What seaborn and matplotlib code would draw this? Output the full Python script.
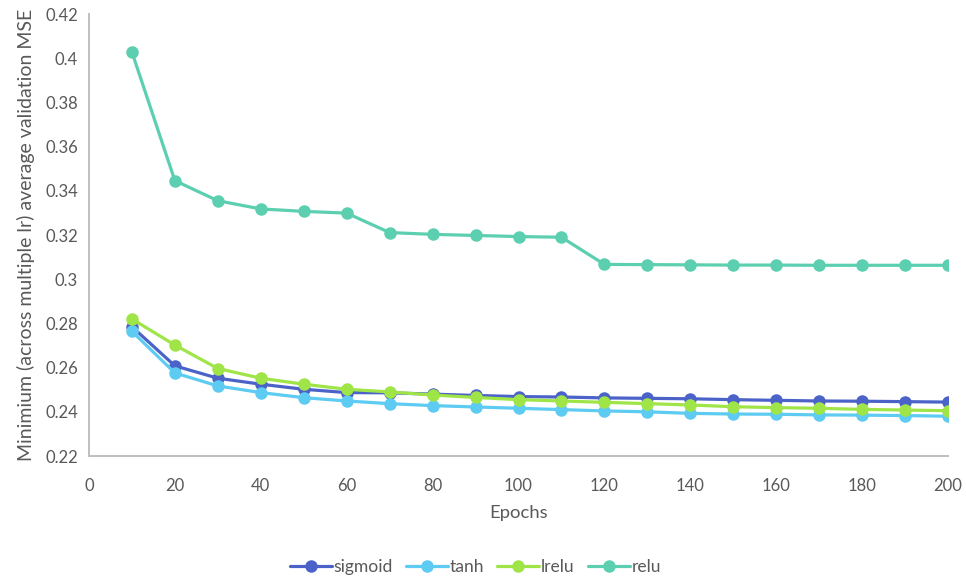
import matplotlib
matplotlib.use("Agg")
import matplotlib.pyplot as plt
import seaborn as sns
import pandas as pd

# Epochs at which the validation error was recorded
epochs = [10, 20, 30, 40, 50, 60, 70, 80, 90, 100,
          110, 120, 130, 140, 150, 160, 170, 180, 190, 200]

# Minimum (across learning rates) average validation MSE per activation
sigmoid = [0.2785, 0.2608, 0.2552, 0.2525, 0.2502, 0.2487, 0.2486, 0.2480, 0.2474, 0.2469,
           0.2467, 0.2463, 0.2461, 0.2459, 0.2455, 0.2452, 0.2449, 0.2448, 0.2446, 0.2444]
tanh = [0.2764, 0.2576, 0.2517, 0.2487, 0.2464, 0.2449, 0.2437, 0.2428, 0.2422, 0.2416,
        0.2410, 0.2404, 0.2400, 0.2393, 0.2390, 0.2389, 0.2386, 0.2385, 0.2383, 0.2380]
lrelu = [0.2820, 0.2702, 0.2596, 0.2552, 0.2525, 0.2502, 0.2490, 0.2476, 0.2465, 0.2455,
         0.2449, 0.2443, 0.2437, 0.2431, 0.2423, 0.2419, 0.2416, 0.2411, 0.2408, 0.2405]
relu = [0.4028, 0.3446, 0.3355, 0.3318, 0.3307, 0.3299, 0.3211, 0.3203, 0.3198, 0.3193,
        0.3190, 0.3067, 0.3066, 0.3065, 0.3064, 0.3064, 0.3063, 0.3063, 0.3063, 0.3063]

series_names = ["sigmoid", "tanh", "lrelu", "relu"]
colors = ["#4B63C8", "#5DCBF2", "#A0E548", "#5BCFAF"]

x_ticks = [0, 20, 40, 60, 80, 100, 120, 140, 160, 180, 200]
y_ticks = [0.22, 0.24, 0.26, 0.28, 0.30, 0.32, 0.34, 0.36, 0.38, 0.40, 0.42]
y_tick_labels = ["0.22", "0.24", "0.26", "0.28", "0.3", "0.32", "0.34",
                 "0.36", "0.38", "0.4", "0.42"]

frames = []
for name, vals in zip(series_names, [sigmoid, tanh, lrelu, relu]):
    frames.append(pd.DataFrame({"Epochs": epochs, "mse": vals, "activation": name}))
df = pd.concat(frames, ignore_index=True)

sns.set_theme(style="white")
plt.rcParams["font.family"] = ["Lato", "DejaVu Sans"]

text_color = "#595959"
spine_color = "#BFBFBF"

fig = plt.figure(figsize=(9.66, 5.79), dpi=100)
ax = fig.add_axes([0.0921, 0.2124, 0.8893, 0.7634])

sns.lineplot(data=df, x="Epochs", y="mse", hue="activation",
             hue_order=series_names, palette=colors, marker="o",
             markersize=9, markeredgewidth=0, linewidth=2.3, ax=ax,
             legend=False)

ax.set_xlim(0, 200)
ax.set_ylim(0.22, 0.42)
ax.set_xticks(x_ticks)
ax.set_xticklabels([str(t) for t in x_ticks])
ax.set_yticks(y_ticks)
ax.set_yticklabels(y_tick_labels)
ax.tick_params(axis="both", length=0, labelsize=12, labelcolor=text_color)
ax.tick_params(axis="x", pad=16)
ax.tick_params(axis="y", pad=8)

for side in ["top", "right"]:
    ax.spines[side].set_visible(False)
for side in ["left", "bottom"]:
    ax.spines[side].set_color(spine_color)
    ax.spines[side].set_linewidth(1.4)

ax.set_xlabel("Epochs", fontsize=13.3, color=text_color, labelpad=8)
ax.set_ylabel("Minimium (across multiple lr) average validation MSE",
              fontsize=14, color=text_color, labelpad=7)

handles = [plt.Line2D([], [], color=c, marker="o", markersize=9,
                      markeredgewidth=0, linewidth=2.3) for c in colors]
ax.legend(handles, series_names, loc="center", ncol=4,
          bbox_to_anchor=(0.45, -0.251), frameon=False, fontsize=12.6,
          handlelength=2.4, handletextpad=0.1, columnspacing=0.75,
          labelcolor=text_color)

fig.savefig("out.png", dpi=100)
